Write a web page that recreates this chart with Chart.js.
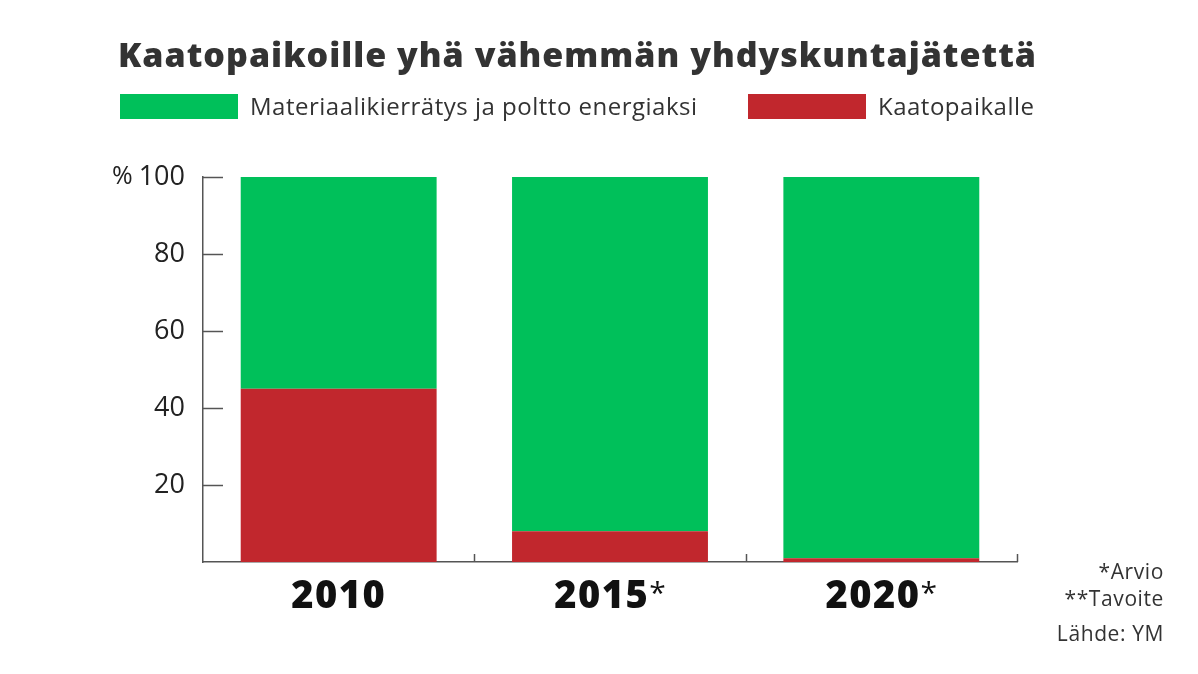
<!DOCTYPE html>
<html>
<head>
<meta charset="utf-8">
<script src="https://cdn.jsdelivr.net/npm/chart.js@4/dist/chart.umd.min.js"></script>
<style>
  html, body { margin: 0; padding: 0; background: #ffffff; }
  #wrap { width: 1198px; height: 674px; position: relative; }
</style>
</head>
<body>
<div id="wrap"><canvas id="c" width="1198" height="674"></canvas></div>
<script>
// ---- data ----
const titleText = 'Kaatopaikoille yhä vähemmän yhdyskuntajätettä';
const categories = ['2010', '2015*', '2020*'];
const landfillLabel = 'Kaatopaikalle';
const recycleLabel = 'Materiaalikierrätys ja poltto energiaksi';
const landfillValues = [45, 8, 1];
const recycleValues = [55, 92, 99];
const yTickValues = [20, 40, 60, 80, 100];
const yUnit = '%';
const footnotes = ['*Arvio', '**Tavoite', 'Lähde: YM'];

// ---- style ----
const GREEN = '#00c05a';
const RED = '#c1272d';
const TEXT = '#333333';
const AXIS = '#555555';
const FONT = '"Open Sans", "Noto Sans", sans-serif';

const decorPlugin = {
  id: 'decor',
  afterDraw(chart) {
    const ctx = chart.ctx;
    const x = chart.scales.x, y = chart.scales.y;
    const area = chart.chartArea;
    ctx.save();

    // title
    ctx.fillStyle = TEXT;
    ctx.textBaseline = 'alphabetic';
    ctx.textAlign = 'left';
    ctx.letterSpacing = '1px';
    ctx.font = '800 34px ' + FONT;
    ctx.fillText(titleText, 118, 67);

    // legend (order: recycle, landfill)
    const items = [
      { label: recycleLabel, color: GREEN, x: 120 },
      { label: landfillLabel, color: RED, x: 748 }
    ];
    ctx.font = '24px ' + FONT;
    ctx.letterSpacing = '0.5px';
    items.forEach(it => {
      ctx.fillStyle = it.color;
      ctx.fillRect(it.x, 94, 118, 25);
      ctx.fillStyle = TEXT;
      ctx.fillText(it.label, it.x + 130, 115);
    });

    // unit sign before the top y label
    ctx.letterSpacing = '0px';
    ctx.fillStyle = '#222222';
    ctx.font = '25px ' + FONT;
    ctx.textBaseline = 'middle';
    ctx.fillText(yUnit, 112, y.getPixelForValue(100));

    // y tick marks (inside)
    ctx.strokeStyle = AXIS;
    ctx.lineWidth = 1.5;
    yTickValues.forEach(v => {
      const py = Math.round(y.getPixelForValue(v)) + 0.5;
      ctx.beginPath();
      ctx.moveTo(area.left, py);
      ctx.lineTo(area.left + 20, py);
      ctx.stroke();
    });

    // x boundary tick marks
    for (let i = 0; i < categories.length; i++) {
      const px = Math.round(x.getPixelForValue(i + 0.5)) + 0.5;
      ctx.beginPath();
      ctx.moveTo(px, area.bottom);
      ctx.lineTo(px, area.bottom - 8);
      ctx.stroke();
    }

    // x category labels: bold digits + regular asterisks
    ctx.textBaseline = 'alphabetic';
    ctx.fillStyle = '#111111';
    const mainFont = '800 38px ' + FONT, sufFont = '30px ' + FONT;
    categories.forEach((c, i) => {
      const m = c.match(/^([^*]*)(\**)$/);
      const main = m[1], suf = m[2];
      ctx.letterSpacing = '1.5px';
      ctx.font = mainFont;
      const w1 = ctx.measureText(main).width;
      ctx.letterSpacing = '0px';
      ctx.font = sufFont;
      const w2 = ctx.measureText(suf).width;
      const cx = x.getPixelForValue(i);
      const sx = cx - (w1 + w2) / 2;
      ctx.textAlign = 'left';
      ctx.letterSpacing = '1.5px';
      ctx.font = mainFont;
      ctx.fillText(main, sx, 608);
      ctx.letterSpacing = '0px';
      ctx.font = sufFont;
      ctx.fillText(suf, sx + w1, 603);
    });

    // footnotes
    ctx.fillStyle = TEXT;
    ctx.font = '21px ' + FONT;
    ctx.letterSpacing = '0.6px';
    ctx.textAlign = 'right';
    const fy = [579, 606, 641];
    footnotes.forEach((t, i) => ctx.fillText(t, 1164, fy[i]));

    ctx.restore();
  }
};

new Chart(document.getElementById('c'), {
  type: 'bar',
  data: {
    labels: categories,
    datasets: [
      { label: landfillLabel, data: landfillValues, backgroundColor: RED,
        barPercentage: 0.722, categoryPercentage: 1.0 },
      { label: recycleLabel, data: recycleValues, backgroundColor: GREEN,
        barPercentage: 0.722, categoryPercentage: 1.0 }
    ]
  },
  options: {
    responsive: false,
    animation: false,
    devicePixelRatio: 1,
    layout: { padding: { left: 118, right: 181, top: 177, bottom: 0 } },
    plugins: { legend: { display: false }, title: { display: false }, tooltip: { enabled: false } },
    scales: {
      x: {
        stacked: true,
        offset: true,
        grid: { display: false },
        border: { display: true, color: AXIS, width: 1.5 },
        ticks: { display: false },
        afterFit(s) { s.height = 112; }
      },
      y: {
        stacked: true,
        min: 0, max: 100,
        afterBuildTicks(s) { s.ticks = [0].concat(yTickValues).map(v => ({ value: v })); },
        grid: { display: false },
        border: { display: true, color: AXIS, width: 1.5 },
        ticks: {
          padding: 10,
          color: '#222222',
          font: { family: FONT, size: 27 },
          callback: v => v === 0 ? '' : String(v)
        },
        afterFit(s) { s.width = 85; }
      }
    }
  },
  plugins: [decorPlugin]
});
</script>
</body>
</html>
